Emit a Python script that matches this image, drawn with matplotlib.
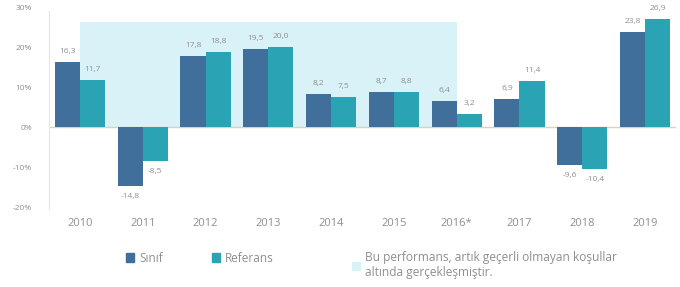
import matplotlib
matplotlib.use("Agg")
import matplotlib.pyplot as plt
from matplotlib.patches import Rectangle, Patch
import numpy as np

years = ["2010", "2011", "2012", "2013", "2014", "2015", "2016*", "2017", "2018", "2019"]
sinif = [16.3, -14.8, 17.8, 19.5, 8.2, 8.7, 6.4, 6.9, -9.6, 23.8]
referans = [11.7, -8.5, 18.8, 20.0, 7.5, 8.8, 3.2, 11.4, -10.4, 26.9]
yticks = [-20, -10, 0, 10, 20, 30]
shade_start, shade_end, shade_top = 0, 6, 26.3
series_names = ["Sınıf", "Referans"]
note = "Bu performans, artık geçerli olmayan koşullar\naltında gerçekleşmiştir."

c_sinif = "#3f6f9a"
c_ref = "#2aa4b4"
c_shade = "#d9f2f7"
c_text = "#8f8f8f"

plt.rcParams['font.family'] = ['Open Sans', 'DejaVu Sans']

fig = plt.figure(figsize=(6.8, 2.87), dpi=100)
ax = fig.add_axes([48.6/680, (287-207)/287, (676.4-48.6)/680, 200/287])

x = np.arange(len(years))
w = 0.4
ax.add_patch(Rectangle((shade_start, 0), shade_end - shade_start, shade_top,
                       facecolor=c_shade, edgecolor='none', zorder=0))
b1 = ax.bar(x - w/2, sinif, w, color=c_sinif, zorder=2)
b2 = ax.bar(x + w/2, referans, w, color=c_ref, zorder=2)

for bars, vals in ((b1, sinif), (b2, referans)):
    for rect, v in zip(bars, vals):
        cx = rect.get_x() + rect.get_width()/2
        lab = f"{v:.1f}".replace(".", ",")
        if v >= 0:
            ax.annotate(lab, (cx, v), xytext=(0, 5), textcoords="offset points",
                        ha="center", va="bottom", fontsize=6, color=c_text)
        else:
            ax.annotate(lab, (cx, v), xytext=(0, -5), textcoords="offset points",
                        ha="center", va="top", fontsize=6, color=c_text)

ax.axhline(0, color="#e3cfb8", lw=1, zorder=1)
ax.set_xlim(-0.5, len(years) - 0.5)
ax.set_ylim(-20, 30)
ax.set_yticks(yticks)
ax.set_yticklabels([f"{t}%" for t in yticks], fontsize=6, color=c_text)
ax.set_xticks(x)
ax.set_xticklabels(years, fontsize=8, color=c_text)
ax.tick_params(axis='both', length=0)
ax.tick_params(axis='x', pad=8)
ax.tick_params(axis='y', pad=12)
for s in ("top", "right", "bottom"):
    ax.spines[s].set_visible(False)
ax.spines["left"].set_color("#e6e6e6")
ax.spines["left"].set_bounds(-20.5, 29)

leg_kw = dict(frameon=False, labelcolor=c_text, handlelength=0.7,
              handleheight=0.7, handletextpad=0.4, borderpad=0, borderaxespad=0)
fig.legend(handles=[Patch(color=c_sinif, label=series_names[0])], loc="center left",
           bbox_to_anchor=(126/680, 1 - 258/287), fontsize=8.5, **leg_kw)
fig.legend(handles=[Patch(color=c_ref, label=series_names[1])], loc="center left",
           bbox_to_anchor=(212/680, 1 - 258/287), fontsize=8.5, **leg_kw)
fig.legend(handles=[Patch(color=c_shade, label=note)], loc="center left",
           bbox_to_anchor=(352/680, 1 - 265/287), fontsize=8.6, **leg_kw)

fig.savefig("out.png", dpi=100)
